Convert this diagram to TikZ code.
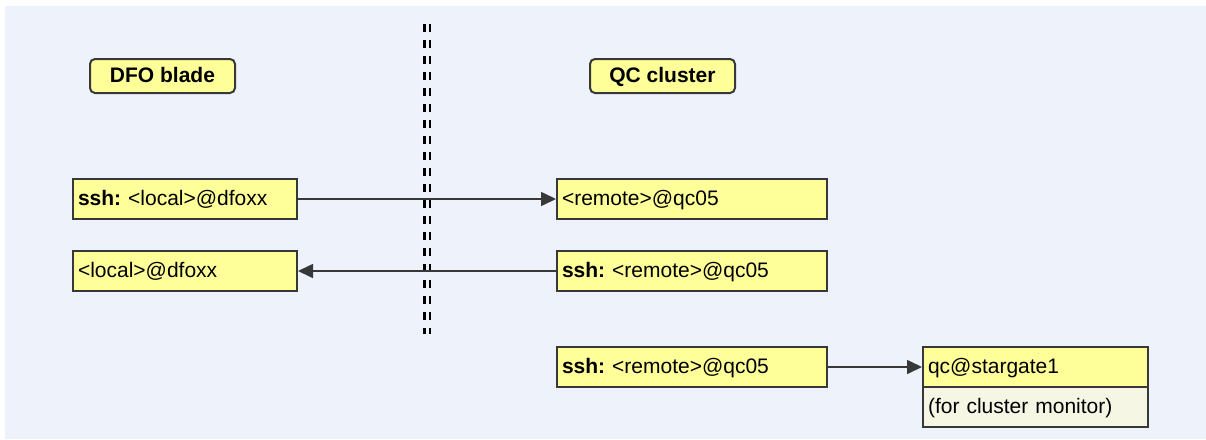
\documentclass[tikz,border=0pt]{standalone}
\usepackage{fontspec}
\setmainfont{Liberation Sans}
\usetikzlibrary{arrows.meta}
\definecolor{bgcol}{HTML}{EEF2FA}
\definecolor{yel}{HTML}{FFFF99}
\definecolor{ivory}{HTML}{F5F7E4}
\definecolor{edge}{HTML}{383838}
\begin{document}
\frenchspacing
\begin{tikzpicture}[x=1pt,y=-1pt,
  every node/.style={font=\fontsize{21}{25}\selectfont},
  hostbox/.style={draw=edge, line width=2pt, fill=yel, anchor=north west,
    minimum height=40pt, inner xsep=5pt, inner ysep=0pt, align=left,
    text height=17pt, text depth=4pt},
  titlebox/.style={draw=edge, line width=2pt, fill=yel, rounded corners=5pt,
    anchor=north west, minimum width=145pt, minimum height=34pt,
    inner sep=0pt, font=\fontsize{21}{25}\selectfont\bfseries,
    text height=16pt, text depth=4pt},
  arr/.style={draw=edge, line width=1.6pt, -{Triangle[length=15pt,width=14pt]}},
  sepline/.style={draw=black, line width=2.5pt, dash pattern=on 8pt off 8pt}
]
\useasboundingbox (0,0) rectangle (1206,439);
\fill[bgcol] (5,6) rectangle (1206,439);

% separator
\coordinate (s1a) at (424.5,24);
\coordinate (s1b) at (424.5,334);
\coordinate (s2a) at (430,24);
\coordinate (s2b) at (430,334);
\draw[sepline] (s1a) -- (s1b);
\draw[sepline] (s2a) -- (s2b);

% titles
\node[titlebox] (dfo) at (89,58) {DFO blade};
\node[titlebox] (qc) at (589,58) {QC cluster};

% hosts
\node[hostbox, text width=214pt] (b1) at (72,178) {\textbf{ssh:} <local>@dfoxx};
\node[hostbox, text width=214pt] (b2) at (72,250) {<local>@dfoxx};
\node[hostbox, text width=260pt] (b3) at (556,178) {<remote>@qc05};
\node[hostbox, text width=260pt] (b4) at (556,250) {\textbf{ssh:} <remote>@qc05};
\node[hostbox, text width=260pt] (b5) at (556,346) {\textbf{ssh:} <remote>@qc05};
\node[hostbox, text width=215pt] (b6) at (922,346) {qc@stargate1};
\node[hostbox, text width=215pt, fill=ivory] (b7) at (922,386) {(for cluster monitor)};

% connectors
\draw[arr] (b1.east) -- (b3.west);
\draw[arr] (b4.west) -- (b2.east);
\draw[arr] (b5.east) -- (b6.west);
\end{tikzpicture}
\end{document}
